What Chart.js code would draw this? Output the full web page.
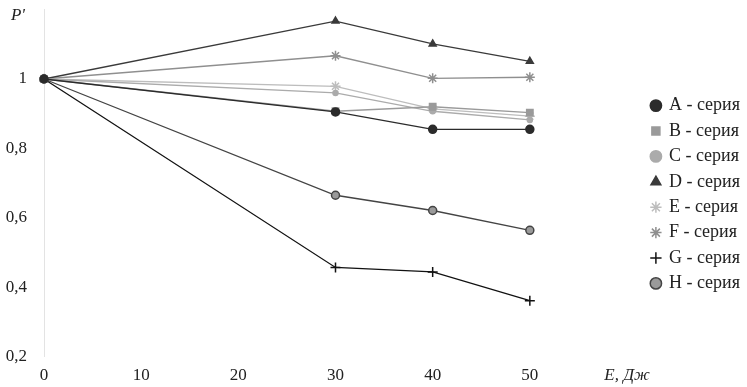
<!DOCTYPE html>
<html>
<head>
<meta charset="utf-8">
<script src="https://cdn.jsdelivr.net/npm/chart.js@4"></script>
<style>
  html, body { margin: 0; padding: 0; background: #fff; }
</style>
</head>
<body>
<canvas id="chart" width="747" height="387"></canvas>
<script>
// energy, J
const energies = [0, 30, 40, 50];

const seriesA = [1, 0.905, 0.855, 0.855];
const seriesB = [1, 0.907, 0.92, 0.903];
const seriesC = [1, 0.96, 0.907, 0.882];
const seriesD = [1, 1.167, 1.101, 1.051];
const seriesE = [1, 0.979, 0.914, 0.893];
const seriesF = [1, 1.067, 1.002, 1.005];
const seriesG = [1, 0.457, 0.444, 0.361];
const seriesH = [1, 0.665, 0.621, 0.564];

const seriesNames = ['A - серия', 'B - серия', 'C - серия', 'D - серия',
                     'E - серия', 'F - серия', 'G - серия', 'H - серия'];

const yTicks = [0.2, 0.4, 0.6, 0.8, 1, 1.2];
const xTicks = [0, 10, 20, 30, 40, 50, 60];

const toPoints = vals => vals.map((v, i) => ({ x: energies[i], y: v }));

function makeSet(label, vals, color, style, radius, fill) {
  return {
    label,
    data: toPoints(vals),
    borderColor: color,
    backgroundColor: fill || color,
    pointBorderColor: color,
    pointBackgroundColor: fill || color,
    pointStyle: style,
    pointRadius: radius,
    pointBorderWidth: 1.5,
    borderWidth: 1.3,
    tension: 0,
    clip: false
  };
}

const datasets = [
  makeSet(seriesNames[0], seriesA, '#2b2b2b', 'circle', 4),
  makeSet(seriesNames[1], seriesB, '#9a9a9a', 'rect', 4.5),
  makeSet(seriesNames[2], seriesC, '#ababab', 'circle', 2.5),
  makeSet(seriesNames[3], seriesD, '#3a3a3a', 'triangle', 4),
  makeSet(seriesNames[4], seriesE, '#bdbdbd', 'star', 5),
  makeSet(seriesNames[5], seriesF, '#8f8f8f', 'star', 5),
  makeSet(seriesNames[6], seriesG, '#111111', 'cross', 5),
  makeSet(seriesNames[7], seriesH, '#444444', 'circle', 4, '#9a9a9a')
];

const serif = '"Liberation Serif", "DejaVu Serif", serif';

// y axis name drawn above the axis
const axisName = {
  id: 'axisName',
  afterDraw(chart) {
    const { ctx, scales: { y } } = chart;
    ctx.save();
    ctx.font = 'italic 17px ' + serif;
    ctx.fillStyle = '#222';
    ctx.textAlign = 'center';
    ctx.textBaseline = 'middle';
    ctx.fillText("P'", y.right - 26, y.getPixelForValue(1.2) + 6);
    ctx.restore();
  }
};

new Chart(document.getElementById('chart'), {
  type: 'line',
  data: { datasets },
  plugins: [axisName],
  options: {
    responsive: false,
    animation: false,
    layout: { padding: { top: 2, right: -3, bottom: 0, left: 0 } },
    plugins: {
      tooltip: { enabled: false },
      legend: {
        position: 'right',
        align: 'center',
        labels: {
          usePointStyle: true,
          boxWidth: 8,
          boxHeight: 8,
          padding: 7.4,
          color: '#222',
          font: { family: serif, size: 18 }
        }
      }
    },
    scales: {
      x: {
        type: 'linear',
        min: 0,
        max: 61.8,
        afterBuildTicks: axis => { axis.ticks = xTicks.map(v => ({ value: v })); },
        grid: { display: false },
        border: { display: false },
        ticks: {
          padding: 1,
          color: '#222',
          font: ctx => ({ family: serif, size: 17, style: ctx.tick && ctx.tick.value === 60 ? 'italic' : 'normal' }),
          callback: v => v === 60 ? 'E, Дж' : String(v)
        }
      },
      y: {
        min: 0.2,
        max: 1.2,
        afterBuildTicks: axis => { axis.ticks = yTicks.map(v => ({ value: v })); },
        afterFit: axis => { axis.width = 44; },
        grid: { display: false },
        border: { display: true, color: '#e3e3e3', width: 1 },
        ticks: {
          padding: 9,
          color: '#222',
          font: ctx => ({ family: serif, size: ctx.tick && ctx.tick.value === 1.2 ? 1 : 17 }),
          callback: v => v === 1.2 ? '' : String(v).replace('.', ',')
        }
      }
    }
  }
});
</script>
</body>
</html>
